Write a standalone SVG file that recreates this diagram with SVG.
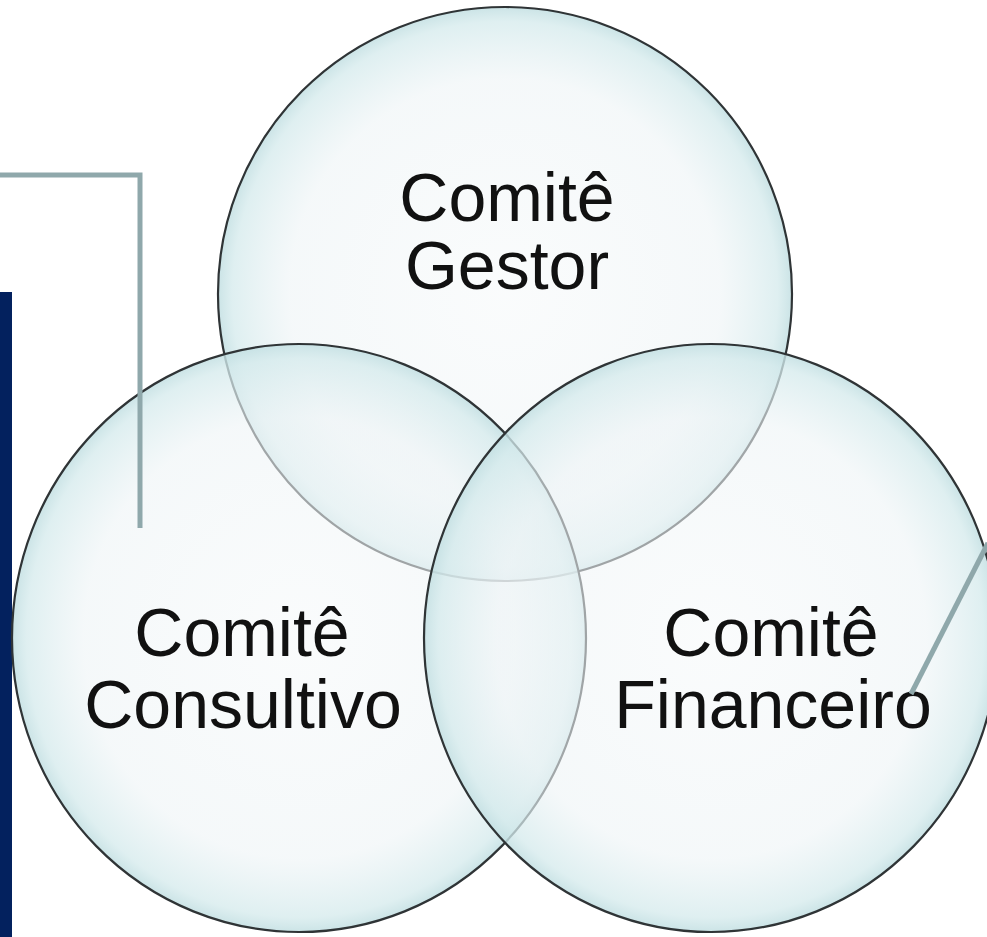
<svg xmlns="http://www.w3.org/2000/svg" width="987" height="937" viewBox="0 0 987 937">
<style>
.c{stroke:#2f3436;stroke-width:2.2}
.t{font-family:"Liberation Sans",Arial,sans-serif;font-size:68px;fill:#111;text-anchor:middle}
.k{fill:none;stroke:#8fa8ab;stroke-width:5}
</style>
<defs>
<radialGradient id="g" cx="50%" cy="50%" r="50%">
<stop offset="0" stop-color="#f6f9fa" stop-opacity="0.55"/>
<stop offset="0.75" stop-color="#eef4f6" stop-opacity="0.6"/>
<stop offset="0.95" stop-color="#d4eaec" stop-opacity="0.75"/>
<stop offset="1" stop-color="#c2dfe2" stop-opacity="0.85"/>
</radialGradient>
</defs>
<rect width="987" height="937" fill="#fff"/>
<rect id="bar" x="0" y="292" width="12" height="645" fill="#03215e"/>
<g id="gestor">
<circle class="c" cx="505" cy="294" r="287" fill="url(#g)"/>
</g>
<g id="consultivo">
<ellipse class="c" cx="299" cy="638" rx="287" ry="294" fill="url(#g)"/>
</g>
<g id="financeiro">
<ellipse class="c" cx="711" cy="638" rx="287" ry="294" fill="url(#g)"/>
</g>
<g id="labels">
<text class="t" x="507" y="221">Comitê</text>
<text class="t" x="507" y="289">Gestor</text>
<text class="t" x="242" y="656">Comitê</text>
<text class="t" x="243" y="728">Consultivo</text>
<text class="t" x="771" y="656">Comitê</text>
<text class="t" x="773" y="728">Financeiro</text>
</g>
<g id="connectors">
<path class="k" d="M0,175 H140 V528"/>
<path class="k" d="M988,543 L911,694"/>
</g>
</svg>
